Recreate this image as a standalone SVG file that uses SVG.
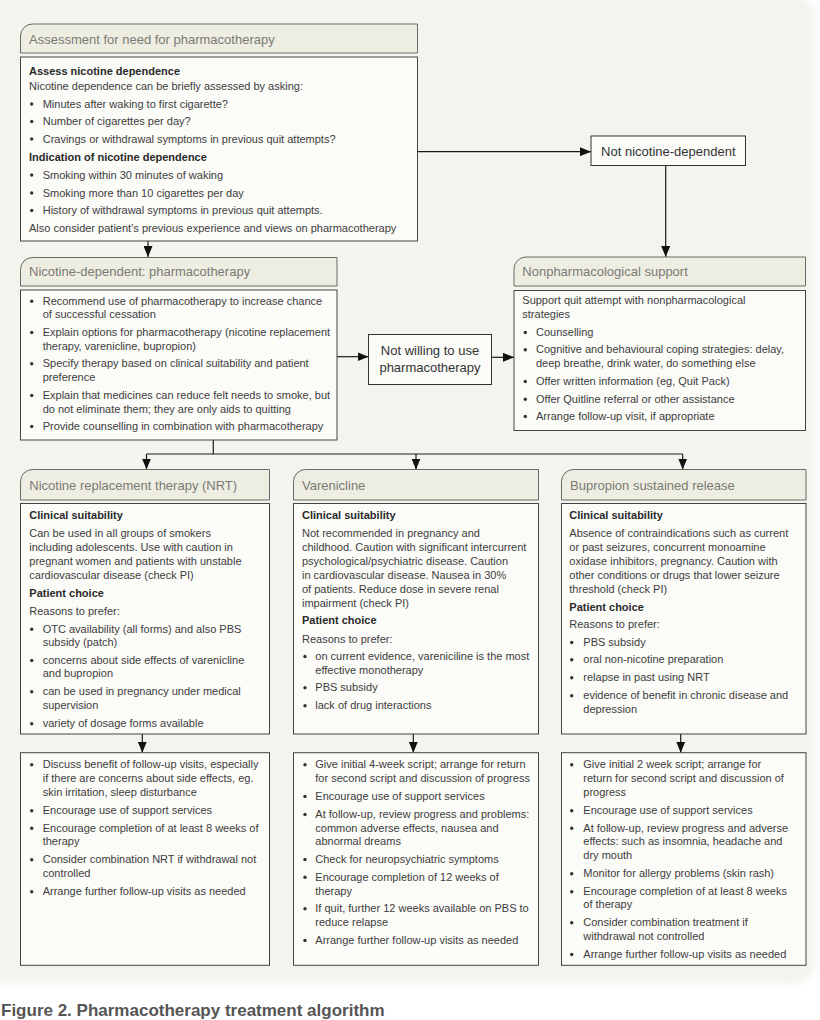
<svg xmlns="http://www.w3.org/2000/svg" width="820" height="1020" viewBox="0 0 820 1020">
<defs>
<marker id="ah" markerUnits="userSpaceOnUse" markerWidth="11" markerHeight="9" refX="11" refY="4.5" orient="auto"><path d="M0,0 L11,4.5 L0,9 Z" fill="#111"/></marker>
<filter id="soft" x="-5%" y="-5%" width="110%" height="110%"><feGaussianBlur stdDeviation="3"/></filter>
</defs>
<style>
.hb{fill:#eeede2;stroke:#6a6a66;stroke-width:1}
.bb{fill:#fbfbf8;stroke:#444;stroke-width:1}
.nb{fill:#fbfbf8;stroke:#333;stroke-width:1}
.h{font-family:"Liberation Sans",Arial,sans-serif;font-size:13px;fill:#7a7a74}
.t{font-family:"Liberation Sans",Arial,sans-serif;font-size:11px;fill:#3d3d3d}
.b{font-family:"Liberation Sans",Arial,sans-serif;font-size:11px;font-weight:bold;fill:#2a2a2a}
.n{font-family:"Liberation Sans",Arial,sans-serif;font-size:13px;fill:#333;text-anchor:middle}
.d{fill:#333}
.c{fill:none;stroke:#1a1a1a;stroke-width:1.2}
.cap{font-family:"Liberation Sans",Arial,sans-serif;font-size:17px;font-weight:bold;fill:#555}
</style>
<rect x="0" y="0" width="820" height="1020" fill="#ffffff"/>
<rect x="-30" y="-4" width="846" height="988" rx="22" fill="#f4f4ef" filter="url(#soft)"/>

<g id="connectors">
<line class="c" x1="148" y1="241" x2="148" y2="257" marker-end="url(#ah)"/>
<line class="c" x1="417.5" y1="151.7" x2="591" y2="151.7" marker-end="url(#ah)"/>
<line class="c" x1="665.7" y1="165.7" x2="665.7" y2="257" marker-end="url(#ah)"/>
<line class="c" x1="337" y1="356.7" x2="368.5" y2="356.7" marker-end="url(#ah)"/>
<line class="c" x1="491.5" y1="357.3" x2="514" y2="357.3" marker-end="url(#ah)"/>
<polyline class="c" points="213.3,440 213.3,454"/>
<line class="c" x1="146.5" y1="454" x2="682.7" y2="454"/>
<line class="c" x1="146.5" y1="454" x2="146.5" y2="469.5" marker-end="url(#ah)"/>
<line class="c" x1="416" y1="454" x2="416" y2="469.5" marker-end="url(#ah)"/>
<line class="c" x1="682.7" y1="454" x2="682.7" y2="469.5" marker-end="url(#ah)"/>
<line class="c" x1="142.3" y1="734" x2="142.3" y2="752.7" marker-end="url(#ah)"/>
<line class="c" x1="413.3" y1="734" x2="413.3" y2="752.7" marker-end="url(#ah)"/>
<line class="c" x1="680.7" y1="734" x2="680.7" y2="752.7" marker-end="url(#ah)"/>
</g>

<g id="assessment">
<path class="hb" d="M20.5,53 V36 A12,12 0 0 1 32.5,24 H417.5 V53 Z"/>
<text class="h" x="29" y="43.5">Assessment for need for pharmacotherapy</text>
<rect class="bb" x="20.5" y="57" width="397" height="184"/>
<text class="b" x="29" y="75">Assess nicotine dependence</text>
<text class="t" x="29" y="90">Nicotine dependence can be briefly assessed by asking:</text>
<circle class="d" cx="31.7" cy="104" r="1.7"/><text class="t" x="42.7" y="107.5">Minutes after waking to first cigarette?</text>
<circle class="d" cx="31.7" cy="121.5" r="1.7"/><text class="t" x="42.7" y="125">Number of cigarettes per day?</text>
<circle class="d" cx="31.7" cy="139" r="1.7"/><text class="t" x="42.7" y="142.5">Cravings or withdrawal symptoms in previous quit attempts?</text>
<text class="b" x="29" y="161">Indication of nicotine dependence</text>
<circle class="d" cx="31.7" cy="175" r="1.7"/><text class="t" x="42.7" y="178.5">Smoking within 30 minutes of waking</text>
<circle class="d" cx="31.7" cy="193" r="1.7"/><text class="t" x="42.7" y="196.5">Smoking more than 10 cigarettes per day</text>
<circle class="d" cx="31.7" cy="210.5" r="1.7"/><text class="t" x="42.7" y="214">History of withdrawal symptoms in previous quit attempts.</text>
<text class="t" x="29" y="232">Also consider patient’s previous experience and views on pharmacotherapy</text>
</g>

<g id="not-nicotine-dependent">
<rect class="nb" x="591" y="136" width="154.5" height="29.5"/>
<text class="n" x="668.3" y="155.5">Not nicotine-dependent</text>
</g>

<g id="nicotine-dependent">
<path class="hb" d="M20.5,286 V269.5 A12,12 0 0 1 32.5,257.5 H337 V286 Z"/>
<text class="h" x="29" y="276">Nicotine-dependent: pharmacotherapy</text>
<rect class="bb" x="20.5" y="290" width="316.5" height="150"/>
<circle class="d" cx="31.7" cy="301.2" r="1.7"/><text class="t" x="42.7" y="304.7">Recommend use of pharmacotherapy to increase chance</text>
<text class="t" x="42.7" y="318">of successful cessation</text>
<circle class="d" cx="31.7" cy="332.5" r="1.7"/><text class="t" x="42.7" y="336">Explain options for pharmacotherapy (nicotine replacement</text>
<text class="t" x="42.7" y="350">therapy, varenicline, bupropion)</text>
<circle class="d" cx="31.7" cy="363.8" r="1.7"/><text class="t" x="42.7" y="367.3">Specify therapy based on clinical suitability and patient</text>
<text class="t" x="42.7" y="380.7">preference</text>
<circle class="d" cx="31.7" cy="395.5" r="1.7"/><text class="t" x="42.7" y="399">Explain that medicines can reduce felt needs to smoke, but</text>
<text class="t" x="42.7" y="413.3">do not eliminate them; they are only aids to quitting</text>
<circle class="d" cx="31.7" cy="426.5" r="1.7"/><text class="t" x="42.7" y="430">Provide counselling in combination with pharmacotherapy</text>
</g>

<g id="not-willing">
<rect class="nb" x="368.5" y="334.5" width="123" height="50"/>
<text class="n" x="430" y="355">Not willing to use</text>
<text class="n" x="430" y="372">pharmacotherapy</text>
</g>

<g id="nonpharmacological">
<path class="hb" d="M514,286 V269 A12,12 0 0 1 526,257 H805.5 V286 Z"/>
<text class="h" x="522.3" y="276">Nonpharmacological support</text>
<rect class="bb" x="514" y="290.5" width="291.5" height="140"/>
<text class="t" x="522.3" y="304">Support quit attempt with nonpharmacological</text>
<text class="t" x="522.3" y="318">strategies</text>
<circle class="d" cx="525.3" cy="332.5" r="1.7"/><text class="t" x="536" y="336">Counselling</text>
<circle class="d" cx="525.3" cy="349.8" r="1.7"/><text class="t" x="536" y="353.3">Cognitive and behavioural coping strategies: delay,</text>
<text class="t" x="536" y="367.3">deep breathe, drink water, do something else</text>
<circle class="d" cx="525.3" cy="381.5" r="1.7"/><text class="t" x="536" y="385">Offer written information (eg, Quit Pack)</text>
<circle class="d" cx="525.3" cy="399.2" r="1.7"/><text class="t" x="536" y="402.7">Offer Quitline referral or other assistance</text>
<circle class="d" cx="525.3" cy="416.5" r="1.7"/><text class="t" x="536" y="420">Arrange follow-up visit, if appropriate</text>
</g>

<g id="nrt">
<path class="hb" d="M20.5,500 V481.5 A12,12 0 0 1 32.5,469.5 H269.5 V500 Z"/>
<text class="h" x="29.3" y="489.5">Nicotine replacement therapy (NRT)</text>
<rect class="bb" x="20.5" y="503.5" width="249" height="230.5"/>
<text class="b" x="29.3" y="519.3">Clinical suitability</text>
<text class="t" x="29.3" y="537.3">Can be used in all groups of smokers</text>
<text class="t" x="29.3" y="551.3">including adolescents. Use with caution in</text>
<text class="t" x="29.3" y="565.3">pregnant women and patients with unstable</text>
<text class="t" x="29.3" y="579.3">cardiovascular disease (check PI)</text>
<text class="b" x="29.3" y="596.7">Patient choice</text>
<text class="t" x="29.3" y="614.7">Reasons to prefer:</text>
<circle class="d" cx="31.7" cy="629.2" r="1.7"/><text class="t" x="42.7" y="632.7">OTC availability (all forms) and also PBS</text>
<text class="t" x="42.7" y="646">subsidy (patch)</text>
<circle class="d" cx="31.7" cy="660.5" r="1.7"/><text class="t" x="42.7" y="664">concerns about side effects of varenicline</text>
<text class="t" x="42.7" y="677.3">and bupropion</text>
<circle class="d" cx="31.7" cy="691.8" r="1.7"/><text class="t" x="42.7" y="695.3">can be used in pregnancy under medical</text>
<text class="t" x="42.7" y="709.3">supervision</text>
<circle class="d" cx="31.7" cy="723.8" r="1.7"/><text class="t" x="42.7" y="727.3">variety of dosage forms available</text>
</g>

<g id="varenicline">
<path class="hb" d="M293.5,500 V481.5 A12,12 0 0 1 305.5,469.5 H538.5 V500 Z"/>
<text class="h" x="302" y="489.5">Varenicline</text>
<rect class="bb" x="293.5" y="503.5" width="245" height="230.5"/>
<text class="b" x="302" y="519.3">Clinical suitability</text>
<text class="t" x="302" y="537.3">Not recommended in pregnancy and</text>
<text class="t" x="302" y="551.3">childhood. Caution with significant intercurrent</text>
<text class="t" x="302" y="565.3">psychological/psychiatric disease. Caution</text>
<text class="t" x="302" y="579.3">in cardiovascular disease. Nausea in 30%</text>
<text class="t" x="302" y="593.3">of patients. Reduce dose in severe renal</text>
<text class="t" x="302" y="607.3">impairment (check PI)</text>
<text class="b" x="302" y="624">Patient choice</text>
<text class="t" x="302" y="642.7">Reasons to prefer:</text>
<circle class="d" cx="305" cy="656.5" r="1.7"/><text class="t" x="315.3" y="660">on current evidence, vareniciline is the most</text>
<text class="t" x="315.3" y="674">effective monotherapy</text>
<circle class="d" cx="305" cy="687.8" r="1.7"/><text class="t" x="315.3" y="691.3">PBS subsidy</text>
<circle class="d" cx="305" cy="705.8" r="1.7"/><text class="t" x="315.3" y="709.3">lack of drug interactions</text>
</g>

<g id="bupropion">
<path class="hb" d="M561.5,500 V481.5 A12,12 0 0 1 573.5,469.5 H806 V500 Z"/>
<text class="h" x="570" y="489.5">Bupropion sustained release</text>
<rect class="bb" x="561.5" y="503.5" width="244.5" height="230.5"/>
<text class="b" x="569.3" y="519.3">Clinical suitability</text>
<text class="t" x="569.3" y="537.3">Absence of contraindications such as current</text>
<text class="t" x="569.3" y="551.3">or past seizures, concurrent monoamine</text>
<text class="t" x="569.3" y="565.3">oxidase inhibitors, pregnancy. Caution with</text>
<text class="t" x="569.3" y="579.3">other conditions or drugs that lower seizure</text>
<text class="t" x="569.3" y="593.3">threshold (check PI)</text>
<text class="b" x="569.3" y="610.7">Patient choice</text>
<text class="t" x="569.3" y="628">Reasons to prefer:</text>
<circle class="d" cx="571.7" cy="642.5" r="1.7"/><text class="t" x="583.3" y="646">PBS subsidy</text>
<circle class="d" cx="571.7" cy="659.8" r="1.7"/><text class="t" x="583.3" y="663.3">oral non-nicotine preparation</text>
<circle class="d" cx="571.7" cy="677.8" r="1.7"/><text class="t" x="583.3" y="681.3">relapse in past using NRT</text>
<circle class="d" cx="571.7" cy="695.8" r="1.7"/><text class="t" x="583.3" y="699.3">evidence of benefit in chronic disease and</text>
<text class="t" x="583.3" y="713.3">depression</text>
</g>

<g id="nrt-followup">
<rect class="bb" x="20.5" y="752.7" width="249" height="212.6"/>
<circle class="d" cx="31.7" cy="764.8" r="1.7"/><text class="t" x="42.7" y="768.3">Discuss benefit of follow-up visits, especially</text>
<text class="t" x="42.7" y="782.3">if there are concerns about side effects, eg.</text>
<text class="t" x="42.7" y="796.3">skin irritation, sleep disturbance</text>
<circle class="d" cx="31.7" cy="810.8" r="1.7"/><text class="t" x="42.7" y="814.3">Encourage use of support services</text>
<circle class="d" cx="31.7" cy="828.2" r="1.7"/><text class="t" x="42.7" y="831.7">Encourage completion of at least 8 weeks of</text>
<text class="t" x="42.7" y="845">therapy</text>
<circle class="d" cx="31.7" cy="859.8" r="1.7"/><text class="t" x="42.7" y="863.3">Consider combination NRT if withdrawal not</text>
<text class="t" x="42.7" y="877.3">controlled</text>
<circle class="d" cx="31.7" cy="891.8" r="1.7"/><text class="t" x="42.7" y="895.3">Arrange further follow-up visits as needed</text>
</g>

<g id="varenicline-followup">
<rect class="bb" x="293.5" y="752.7" width="245" height="212.6"/>
<circle class="d" cx="305" cy="764.8" r="1.7"/><text class="t" x="315.3" y="768.3">Give initial 4-week script; arrange for return</text>
<text class="t" x="315.3" y="782.3">for second script and discussion of progress</text>
<circle class="d" cx="305" cy="796.5" r="1.7"/><text class="t" x="315.3" y="800">Encourage use of support services</text>
<circle class="d" cx="305" cy="814.5" r="1.7"/><text class="t" x="315.3" y="818">At follow-up, review progress and problems:</text>
<text class="t" x="315.3" y="831.7">common adverse effects, nausea and</text>
<text class="t" x="315.3" y="845">abnormal dreams</text>
<circle class="d" cx="305" cy="859.5" r="1.7"/><text class="t" x="315.3" y="863">Check for neuropsychiatric symptoms</text>
<circle class="d" cx="305" cy="877.2" r="1.7"/><text class="t" x="315.3" y="880.7">Encourage completion of 12 weeks of</text>
<text class="t" x="315.3" y="895">therapy</text>
<circle class="d" cx="305" cy="908.8" r="1.7"/><text class="t" x="315.3" y="912.3">If quit, further 12 weeks available on PBS to</text>
<text class="t" x="315.3" y="926.3">reduce relapse</text>
<circle class="d" cx="305" cy="940.5" r="1.7"/><text class="t" x="315.3" y="944">Arrange further follow-up visits as needed</text>
</g>

<g id="bupropion-followup">
<rect class="bb" x="561.5" y="752.7" width="244.5" height="212.6"/>
<circle class="d" cx="571.7" cy="764.8" r="1.7"/><text class="t" x="583.3" y="768.3">Give initial 2 week script; arrange for</text>
<text class="t" x="583.3" y="782.3">return for second script and discussion of</text>
<text class="t" x="583.3" y="796.3">progress</text>
<circle class="d" cx="571.7" cy="810.8" r="1.7"/><text class="t" x="583.3" y="814.3">Encourage use of support services</text>
<circle class="d" cx="571.7" cy="828.2" r="1.7"/><text class="t" x="583.3" y="831.7">At follow-up, review progress and adverse</text>
<text class="t" x="583.3" y="845">effects: such as insomnia, headache and</text>
<text class="t" x="583.3" y="859">dry mouth</text>
<circle class="d" cx="571.7" cy="873.8" r="1.7"/><text class="t" x="583.3" y="877.3">Monitor for allergy problems (skin rash)</text>
<circle class="d" cx="571.7" cy="891.8" r="1.7"/><text class="t" x="583.3" y="895.3">Encourage completion of at least 8 weeks</text>
<text class="t" x="583.3" y="908.3">of therapy</text>
<circle class="d" cx="571.7" cy="922.8" r="1.7"/><text class="t" x="583.3" y="926.3">Consider combination treatment if</text>
<text class="t" x="583.3" y="940">withdrawal not controlled</text>
<circle class="d" cx="571.7" cy="954.5" r="1.7"/><text class="t" x="583.3" y="958">Arrange further follow-up visits as needed</text>
</g>

<text class="cap" x="1" y="1016">Figure 2. Pharmacotherapy treatment algorithm</text>
</svg>
